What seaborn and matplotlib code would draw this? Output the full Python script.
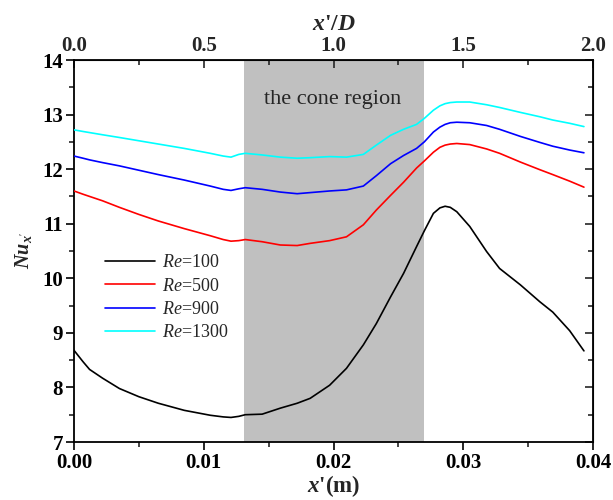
import matplotlib
matplotlib.use("Agg")
import matplotlib.pyplot as plt
import seaborn as sns
import numpy as np
import pandas as pd
from matplotlib.ticker import MultipleLocator

# ---- data ----
x_m = [0.0000, 0.0007, 0.0012, 0.0022, 0.0035, 0.0050, 0.0065, 0.0085, 0.0105, 0.0115,
       0.0121, 0.0127, 0.0132, 0.0145, 0.0159, 0.0172, 0.0182, 0.0197, 0.0210, 0.0223,
       0.0233, 0.0244, 0.0254, 0.0264, 0.0270, 0.0277, 0.0282, 0.0286, 0.0290, 0.0295,
       0.0305, 0.0318, 0.0328, 0.0344, 0.0359, 0.0369, 0.0382, 0.0393]

nu_re100 = [8.68, 8.47, 8.33, 8.17, 7.98, 7.83, 7.71, 7.58, 7.49, 7.46,
            7.45, 7.47, 7.50, 7.51, 7.62, 7.71, 7.80, 8.04, 8.35, 8.78,
            9.17, 9.66, 10.09, 10.58, 10.87, 11.19, 11.29, 11.32, 11.30, 11.22,
            10.95, 10.49, 10.18, 9.88, 9.57, 9.38, 9.04, 8.67]

nu_re500 = [11.60, 11.54, 11.50, 11.42, 11.30, 11.17, 11.05, 10.91, 10.78, 10.71,
            10.68, 10.69, 10.71, 10.67, 10.61, 10.60, 10.64, 10.69, 10.76, 10.98,
            11.25, 11.52, 11.76, 12.02, 12.15, 12.31, 12.40, 12.44, 12.46, 12.47,
            12.45, 12.37, 12.29, 12.13, 11.99, 11.90, 11.78, 11.67]

nu_re900 = [12.24, 12.20, 12.17, 12.12, 12.06, 11.98, 11.90, 11.80, 11.69, 11.63,
            11.61, 11.64, 11.66, 11.63, 11.58, 11.55, 11.57, 11.60, 11.62, 11.69,
            11.88, 12.10, 12.25, 12.38, 12.50, 12.68, 12.77, 12.82, 12.85, 12.86,
            12.85, 12.80, 12.73, 12.60, 12.49, 12.42, 12.35, 12.30]

nu_re1300 = [12.72, 12.69, 12.67, 12.63, 12.58, 12.52, 12.46, 12.38, 12.29, 12.24,
             12.22, 12.27, 12.29, 12.26, 12.22, 12.20, 12.21, 12.23, 12.22, 12.27,
             12.44, 12.62, 12.73, 12.82, 12.93, 13.08, 13.16, 13.20, 13.22, 13.23,
             13.23, 13.18, 13.13, 13.04, 12.96, 12.90, 12.84, 12.78]

series_labels = [r"$Re$=100", r"$Re$=500", r"$Re$=900", r"$Re$=1300"]
series_values = [nu_re100, nu_re500, nu_re900, nu_re1300]
series_colors = ["#000000", "#ff0000", "#0000ff", "#00ffff"]

cone_start, cone_end = 0.0131, 0.0270
D = 0.02

# ---- style ----
sns.set_style("ticks")
plt.rcParams["font.family"] = ["Liberation Serif", "DejaVu Serif"]
plt.rcParams["mathtext.fontset"] = "custom"
plt.rcParams["mathtext.rm"] = "Liberation Serif"
plt.rcParams["mathtext.it"] = "Liberation Serif:italic"
plt.rcParams["mathtext.bf"] = "Liberation Serif:bold"
try:
    plt.rcParams["mathtext.bfit"] = "Liberation Serif:italic:bold"
except KeyError:
    pass
plt.rcParams["lines.solid_joinstyle"] = "round"
plt.rcParams["lines.solid_capstyle"] = "round"

df = pd.concat([
    pd.DataFrame({"x": x_m, "Nu": vals, "Re": lab})
    for lab, vals in zip(series_labels, series_values)
], ignore_index=True)

fig = plt.figure(figsize=(6.13, 5.0), dpi=100)
ax = fig.add_axes([0.1207, 0.116, 0.8467, 0.764])

ax.axvspan(cone_start, cone_end, color="#c0c0c0", lw=0, zorder=0)

sns.lineplot(data=df, x="x", y="Nu", hue="Re", hue_order=series_labels,
             palette=dict(zip(series_labels, series_colors)), lw=1.2,
             sort=False, estimator=None, ax=ax, zorder=3)

ax.set_xlim(0, 0.04)
ax.set_ylim(7, 14)
ax.xaxis.set_minor_locator(MultipleLocator(0.005))
ax.yaxis.set_minor_locator(MultipleLocator(0.5))
ax.set_xticks([0.0, 0.01, 0.02, 0.03, 0.04])
ax.set_xticklabels(["0.00", "0.01", "0.02", "0.03", "0.04"])
ax.set_yticks([7, 8, 9, 10, 11, 12, 13, 14])

for sp in ax.spines.values():
    sp.set_visible(True)
    sp.set_linewidth(1.3)
    sp.set_color("black")

ax.tick_params(axis="both", which="major", direction="out", length=6, width=1.2,
               labelsize=15, pad=2, colors="black")
ax.tick_params(axis="both", which="minor", direction="out", length=3.5, width=1.2)
for lab in ax.get_xticklabels() + ax.get_yticklabels():
    lab.set_fontweight("bold")

# right side ticks (inward, no labels)
axr = ax.secondary_yaxis("right")
axr.yaxis.set_major_locator(MultipleLocator(1))
axr.yaxis.set_minor_locator(MultipleLocator(0.5))
axr.tick_params(which="major", direction="in", length=6, width=1.2, labelright=False)
axr.tick_params(which="minor", direction="in", length=3.5, width=1.2)

# top axis x'/D
axt = ax.secondary_xaxis("top", functions=(lambda v: v / D, lambda v: v * D))
axt.xaxis.set_minor_locator(MultipleLocator(0.25))
axt.set_xticks([0.0, 0.5, 1.0, 1.5, 2.0])
axt.set_xticklabels(["0.0", "0.5", "1.0", "1.5", "2.0"])
axt.tick_params(which="major", direction="in", length=6, width=1.2, labelsize=15, pad=3)
axt.tick_params(which="minor", direction="in", length=3.5, width=1.2)
for lab in axt.get_xticklabels():
    lab.set_fontweight("bold")
axt.set_xlabel(r"$\mathbfit{x}$'/$\mathbfit{D}$", fontsize=17, fontweight="bold", labelpad=4)

ax.set_xlabel(r"$\mathbfit{x}$'(m)", fontsize=16.5, fontweight="bold", labelpad=0)
ax.set_ylabel(r"$\mathbfit{Nu}_{\mathbfit{x}'}$", fontsize=14.5, fontweight="bold", labelpad=6)

ax.text(0.01995, 13.27, "the cone region", ha="center", va="center", fontsize=16)

leg = ax.legend(loc="upper left", bbox_to_anchor=(0.045, 0.51), frameon=False,
                fontsize=13, handlelength=2.8, handletextpad=0.4, labelspacing=0.35,
                borderaxespad=0)

fig.savefig("out.png", dpi=100)
